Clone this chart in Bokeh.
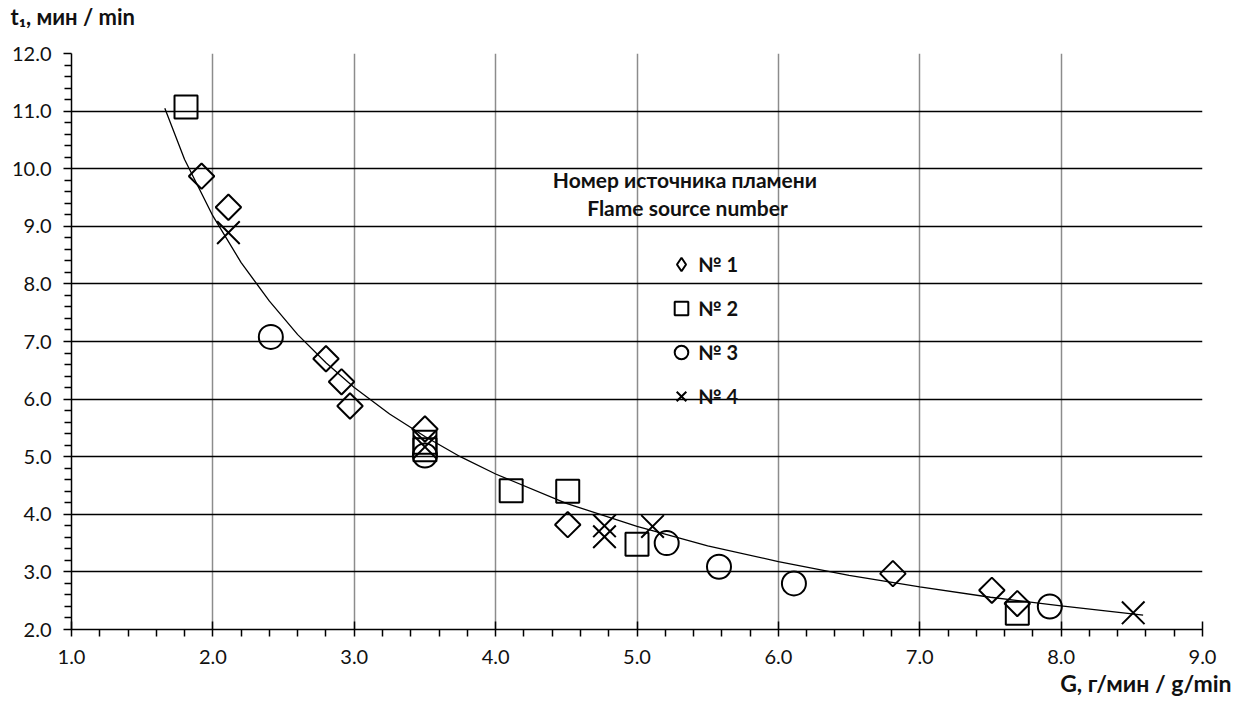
from bokeh.plotting import figure
from bokeh.models import (Label, Legend, LegendItem, FixedTicker, Range1d, NumeralTickFormatter,
                          Title)
from bokeh.embed import file_html
from bokeh.resources import INLINE
import math

# ---- data ----
src1_x = [1.92, 2.11, 2.80, 2.91, 2.97, 3.50, 4.51, 6.81, 7.51, 7.69]
src1_y = [9.87, 9.33, 6.70, 6.30, 5.88, 5.48, 3.82, 2.97, 2.68, 2.45]

src2_x = [1.81, 3.50, 3.50, 4.11, 4.51, 5.00, 7.69]
src2_y = [11.07, 5.25, 5.12, 4.41, 4.40, 3.48, 2.28]

src3_x = [2.41, 3.50, 5.21, 5.58, 6.11, 7.92]
src3_y = [7.08, 5.02, 3.50, 3.09, 2.80, 2.40]

src4_x = [2.11, 3.50, 4.77, 4.77, 5.11, 8.51]
src4_y = [8.89, 5.17, 3.80, 3.61, 3.79, 2.29]

# trend curve, points
trend_x = [1.66, 1.8, 2.0, 2.2, 2.4, 2.6, 2.8, 3.0, 3.25, 3.5, 3.75, 4.0, 4.5,
           5.0, 5.5, 6.0, 6.5, 7.0, 7.5, 8.0, 8.58]
trend_y = [11.05, 10.16, 9.18, 8.37, 7.70, 7.12, 6.63, 6.20, 5.74, 5.35, 5.00, 4.70, 4.19,
           3.79, 3.45, 3.18, 2.94, 2.74, 2.56, 2.41, 2.25]

x_ticks = [1, 2, 3, 4, 5, 6, 7, 8, 9]
y_ticks = [2, 3, 4, 5, 6, 7, 8, 9, 10, 11, 12]
legend_labels = ["№ 1", "№ 2", "№ 3", "№ 4"]
legend_title = ["Номер источника  пламени", "Flame source number"]
y_title = "t₁, мин / min"
x_title = "G, г/мин / g/min"

FONT = "Lato"
W, H = 1241, 704
FL, FR, FT, FB = 71, 1202, 52, 629

p = figure(width=W, height=H, output_backend="svg", toolbar_location=None,
           x_range=Range1d(1, 9), y_range=Range1d(2, 12),
           min_border_left=FL, min_border_right=W - FR, min_border_top=FT,
           min_border_bottom=H - FB)
p.outline_line_color = None
p.background_fill_color = "white"

minor_x = [round(a + 0.2 * k, 2) for a in x_ticks[:-1] for k in range(1, 5)]
minor_y = [round(a + 0.2 * k, 2) for a in y_ticks[:-1] for k in range(1, 5)]
p.xaxis.ticker = FixedTicker(ticks=x_ticks, minor_ticks=minor_x)
p.yaxis.ticker = FixedTicker(ticks=y_ticks, minor_ticks=minor_y)
p.xaxis.formatter = NumeralTickFormatter(format="0.0")
p.yaxis.formatter = NumeralTickFormatter(format="0.0")

for ax in (p.xaxis, p.yaxis):
    ax.axis_line_color = "black"
    ax.axis_line_width = 1.5
    ax.major_tick_line_color = "black"
    ax.major_tick_line_width = 1.5
    ax.minor_tick_line_color = "black"
    ax.minor_tick_line_width = 1.5
    ax.minor_tick_in = 0
    ax.minor_tick_out = 7
    ax.major_label_text_font = FONT
    ax.major_label_text_font_size = "20px"
    ax.major_label_text_color = "#111111"
p.xaxis.major_tick_in = 8
p.xaxis.major_tick_out = 7
p.yaxis.major_tick_in = 0
p.yaxis.major_tick_out = 8
p.xaxis.major_label_standoff = 13
p.yaxis.major_label_standoff = 12

p.xgrid.grid_line_color = "#8c8c8c"
p.xgrid.grid_line_width = 1.5
p.ygrid.grid_line_color = "black"
p.ygrid.grid_line_width = 1.5

p.line(trend_x, trend_y, line_color="black", line_width=1.3)

r1 = p.scatter(src1_x, src1_y, marker="square", angle=math.pi / 4, size=18,
               fill_color=None, line_color="black", line_width=2)
r2 = p.scatter(src2_x, src2_y, marker="square", size=23,
               fill_color=None, line_color="black", line_width=2)
r3 = p.scatter(src3_x, src3_y, marker="circle", size=24,
               fill_color=None, line_color="black", line_width=2)
r4 = p.scatter(src4_x, src4_y, marker="x", size=32,
               line_color="black", line_width=2)

# hidden renderer that only supplies the diamond symbol to the legend
r1_leg = p.scatter(src1_x, src1_y, marker="diamond", size=18, fill_color=None,
                   line_color="black", line_width=2, visible=False)

GW = 34
legend = Legend(items=[LegendItem(label=l, renderers=[r]) for l, r in
                       zip(legend_labels, [r1_leg, r2, r3, r4])],
                location=(681 - GW // 2 - FL, FB - 415),
                glyph_width=GW, glyph_height=38, spacing=6, padding=0, margin=0,
                label_standoff=-4, border_line_color=None, background_fill_alpha=0,
                label_text_font=FONT, label_text_font_size="20px",
                label_text_font_style="bold", label_text_color="#111111")
p.add_layout(legend, "center")


def frame_label(text, cx, cy, align="left", style="bold", size="21px", color="#111111"):
    p.add_layout(Label(x=cx - FL, y=FB - cy, x_units="screen", y_units="screen",
                       text=text, text_align=align, text_baseline="middle",
                       text_font=FONT, text_font_size=size, text_font_style=style,
                       text_color=color))


frame_label(legend_title[0], 687, 179, align="center")
frame_label(legend_title[1], 687, 207, align="center")

# y-axis title as the plot title (second blank line lifts it away from the frame)
p.title.text = y_title + "\n\u00a0"
p.title.align = "left"
p.title.offset = 10 - FL
p.title.standoff = 0
p.title.text_line_height = 0.88
p.title.text_font = FONT
p.title.text_font_size = "22px"
p.title.text_font_style = "bold"
p.title.text_color = "#111111"

xt = Title(text=x_title, align="right", offset=-(1231 - FR), standoff=0, text_font=FONT,
           text_font_size="23px", text_font_style="bold", text_color="#111111")
p.add_layout(xt, "below")

open("out.html", "w").write(file_html(p, INLINE))
